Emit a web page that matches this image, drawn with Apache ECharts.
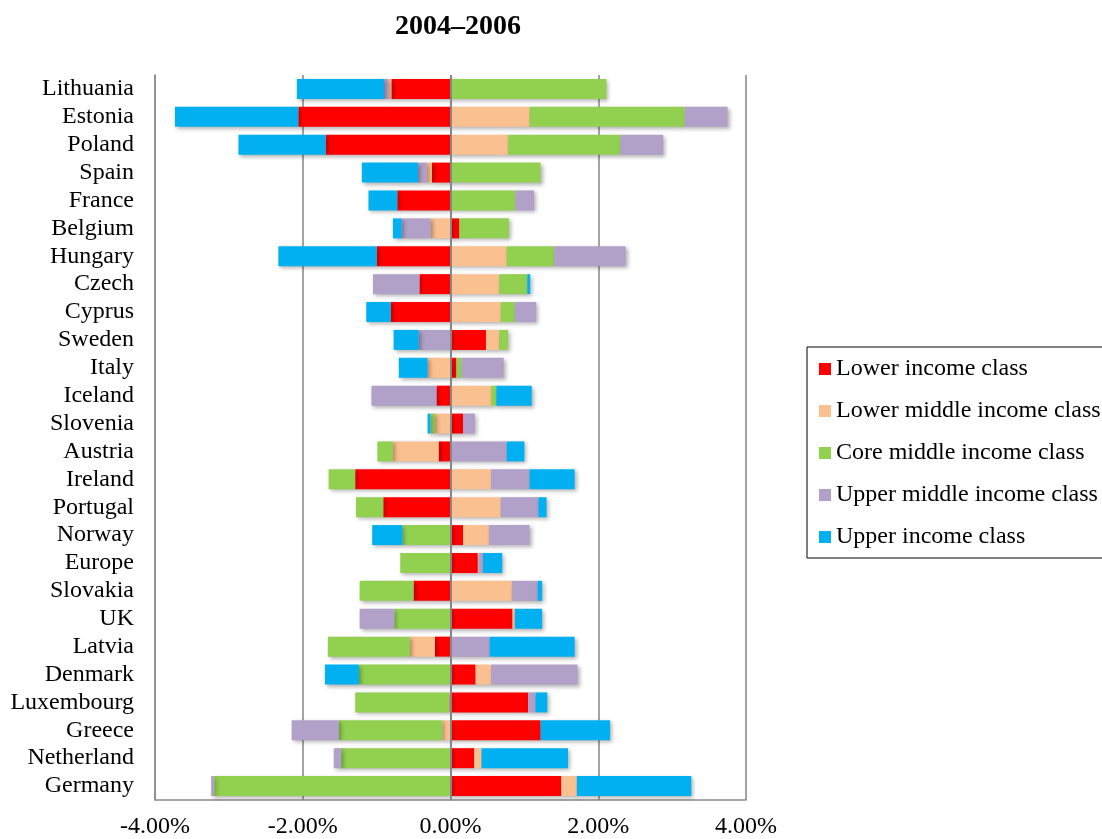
<!DOCTYPE html>
<html>
<head>
<meta charset="utf-8">
<script src="https://cdn.jsdelivr.net/npm/echarts@6/dist/echarts.min.js"></script>
<style>
html,body{margin:0;padding:0;background:#fff;}
#chart{width:1102px;height:839px;}
</style>
</head>
<body>
<div id="chart"></div>
<script>
const countries = ["Lithuania","Estonia","Poland","Spain","France","Belgium","Hungary","Czech","Cyprus","Sweden","Italy","Iceland","Slovenia","Austria","Ireland","Portugal","Norway","Europe","Slovakia","UK","Latvia","Denmark","Luxembourg","Greece","Netherland","Germany"];
const seriesNames = ["Lower income class","Lower middle income class","Core middle income class","Upper middle income class","Upper income class"];
const lowerIncome       = [-0.80,-2.06,-1.69,-0.25,-0.72, 0.12,-1.00,-0.42,-0.81, 0.48, 0.08,-0.19, 0.17,-0.16,-1.29,-0.91, 0.17, 0.37,-0.50, 0.84,-0.21, 0.34, 1.05, 1.22, 0.32, 1.50];
const lowerMiddleIncome = [-0.04, 1.07, 0.78,-0.07, 0.00,-0.27, 0.76, 0.66, 0.68, 0.18,-0.31, 0.55,-0.21,-0.62, 0.55, 0.68, 0.35, 0.01, 0.83, 0.03,-0.34, 0.21,-0.02,-0.11, 0.10, 0.21];
const coreMiddleIncome  = [ 2.11, 2.10, 1.52, 1.22, 0.88, 0.67, 0.64, 0.38, 0.19, 0.12, 0.07, 0.07,-0.06,-0.21,-0.36,-0.37,-0.65,-0.68,-0.73,-0.76,-1.11,-1.24,-1.27,-1.40,-1.48,-3.20];
const upperMiddleIncome = [-0.06, 0.58, 0.58,-0.12, 0.25,-0.39, 0.97,-0.63, 0.29,-0.43, 0.57,-0.88, 0.16, 0.76, 0.52, 0.51, 0.55, 0.06, 0.35,-0.47, 0.53, 1.17, 0.10,-0.64,-0.10,-0.04];
const upperIncome       = [-1.18,-1.67,-1.18,-0.76,-0.39,-0.12,-1.33, 0.04,-0.33,-0.34,-0.39, 0.48,-0.04, 0.24, 0.61, 0.11,-0.41, 0.26, 0.06, 0.37, 1.15,-0.46, 0.16, 0.94, 1.17, 1.55];
const xTicks = [-4, -2, 0, 2, 4];

const colors = ["#FF0000","#FAC090","#92D050","#B1A0C7","#00B0F0"];
const allData = [lowerIncome, lowerMiddleIncome, coreMiddleIncome, upperMiddleIncome, upperIncome];
const FONT = "'Liberation Serif','Times New Roman',serif";

const series = seriesNames.map((name, i) => {
  const s = {
    name: name,
    type: 'bar',
    stack: 'total',
    barWidth: 20,
    data: allData[i],
    itemStyle: {
      color: colors[i],
      shadowBlur: 4,
      shadowOffsetX: 2,
      shadowOffsetY: 2,
      shadowColor: 'rgba(0,0,0,0.3)'
    },
    emphasis: {disabled: true}
  };
  if (i === 4) {
    s.markLine = {
      silent: true,
      symbol: ['none','none'],
      label: {show: false},
      lineStyle: {color: '#868686', width: 2, type: 'solid'},
      data: [{xAxis: 0}],
      z: 10
    };
  }
  return s;
});

const chart = echarts.init(document.getElementById('chart'), null, {renderer: 'canvas'});
chart.setOption({
  animation: false,
  backgroundColor: '#fff',
  title: {
    text: '2004\u20132006',
    left: 453,
    textAlign: 'center',
    top: 8,
    textStyle: {fontFamily: FONT, fontSize: 28, fontWeight: 'bold', color: '#000'}
  },
  legend: {
    orient: 'vertical',
    left: 807,
    top: 347,
    padding: [10, 10, 9, 12],
    itemGap: 18,
    itemWidth: 12,
    itemHeight: 12,
    icon: 'rect',
    borderColor: '#000',
    borderWidth: 1,
    textStyle: {fontFamily: FONT, fontSize: 24, color: '#000'},
    data: seriesNames
  },
  grid: {left: 155, top: 75, width: 591, height: 726, containLabel: false},
  xAxis: {
    type: 'value',
    min: xTicks[0],
    max: xTicks[xTicks.length - 1],
    interval: 2,
    axisLine: {show: true, onZero: false, lineStyle: {color: '#8c8c8c', width: 1.5}},
    axisTick: {show: false},
    splitLine: {show: true, lineStyle: {color: '#868686', width: 1.5}},
    axisLabel: {
      fontFamily: FONT, fontSize: 24, color: '#000', margin: 15,
      formatter: v => v.toFixed(2) + '%'
    }
  },
  yAxis: {
    type: 'category',
    data: countries,
    inverse: true,
    axisLine: {show: true, onZero: false, lineStyle: {color: '#8c8c8c', width: 1.5}},
    axisTick: {show: false},
    axisLabel: {fontFamily: FONT, fontSize: 24, color: '#000', margin: 21, interval: 0}
  },
  series: series
});
</script>
</body>
</html>
